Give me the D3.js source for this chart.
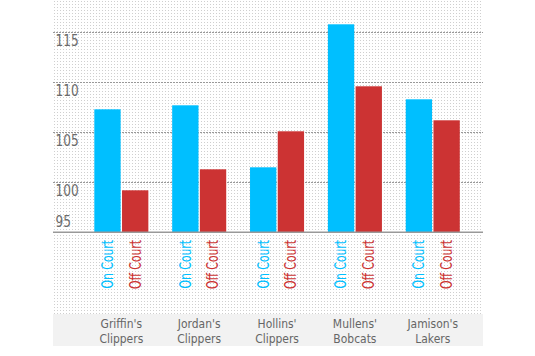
<!DOCTYPE html>
<html>
<head>
<meta charset="utf-8">
<script src="https://cdn.jsdelivr.net/npm/d3@7"></script>
<style>
  html, body { margin: 0; padding: 0; background: #fff; }
  svg { display: block; }
  text { font-family: "DejaVu Sans Condensed", "Liberation Sans Narrow", "Roboto", sans-serif; }
</style>
</head>
<body>
<svg id="chart" width="535" height="356"></svg>
<script>
const categories = ["Griffin's|Clippers", "Jordan's|Clippers", "Hollins'|Clippers", "Mullens'|Bobcats", "Jamison's|Lakers"];
const seriesKeys = ["On Court", "Off Court"];
const onCourt = [107.3, 107.7, 101.5, 115.8, 108.3];
const offCourt = [99.2, 101.3, 105.1, 109.6, 106.2];
const yTicks = [95, 100, 105, 110, 115];
const colors = ["#00BFFF", "#CC3333"];

const svg = d3.select("#chart");
const plotLeft = 53, plotRight = 483, plotTop = 0, plotBottom = 314, bandBottom = 346;

const y = d3.scaleLinear().domain([95, 115]).range([232.3, 32.3]);
const x0 = d3.scaleBand().domain(categories).range([82.4, 471.7]).paddingInner(0.306).paddingOuter(0.153);
const x1 = d3.scaleBand().domain(seriesKeys).range([0, x0.bandwidth()]).paddingInner(0.05);

// dotted background pattern
const defs = svg.append("defs");
const pat = defs.append("pattern").attr("id", "dots").attr("patternUnits", "userSpaceOnUse")
  .attr("x", plotLeft).attr("y", 0).attr("width", 3).attr("height", 3);
pat.append("rect").attr("x", 1).attr("y", 1).attr("width", 1).attr("height", 1).attr("fill", "#cfcfcf");

svg.append("rect").attr("x", plotLeft).attr("y", plotTop).attr("width", plotRight - plotLeft).attr("height", plotBottom - plotTop)
  .attr("fill", "url(#dots)");

// category band
svg.append("rect").attr("x", plotLeft).attr("y", plotBottom).attr("width", plotRight - plotLeft).attr("height", bandBottom - plotBottom)
  .attr("fill", "#f2f2f2");

// gridlines
svg.append("g").selectAll("line").data(yTicks.filter(d => d !== 95)).join("line")
  .attr("x1", plotLeft).attr("x2", plotRight)
  .attr("y1", d => y(d)).attr("y2", d => y(d))
  .attr("stroke", "#999").attr("stroke-width", 1).attr("stroke-dasharray", "2,1")
  .attr("shape-rendering", "crispEdges");

// bars
const data = categories.map((c, i) => ({ cat: c, vals: [onCourt[i], offCourt[i]] }));
const groups = svg.append("g").selectAll("g").data(data).join("g")
  .attr("transform", d => `translate(${x0(d.cat)},0)`);
groups.selectAll("rect").data(d => d.vals.map((v, j) => ({ key: seriesKeys[j], v, j }))).join("rect")
  .attr("x", d => x1(d.key)).attr("width", x1.bandwidth())
  .attr("y", d => y(d.v)).attr("height", d => y(95) - y(d.v))
  .attr("fill", d => colors[d.j]);

// baseline
svg.append("line").attr("x1", plotLeft).attr("x2", plotRight).attr("y1", y(95)).attr("y2", y(95))
  .attr("stroke", "#999").attr("stroke-width", 1.5);

// y tick labels
svg.append("g").selectAll("text").data(yTicks).join("text")
  .attr("transform", d => `translate(55.5,${d === 95 ? y(d) - 5 : y(d) + 14}) scale(0.9,1)`)
  .attr("fill", "#6b6b6b").attr("font-size", 15)
  .text(d => d);

// rotated series labels
groups.selectAll("text.series").data(d => seriesKeys.map((k, j) => ({ key: k, j }))).join("text")
  .attr("class", "series")
  .attr("transform", d => `translate(${x1(d.key) + x1.bandwidth() / 2},240) rotate(-90) scale(0.8,1)`)
  .attr("text-anchor", "end").attr("dy", "0.36em")
  .attr("font-size", 15)
  .attr("fill", d => colors[d.j])
  .text(d => d.key);

// category labels (two lines each)
const lines = categories.flatMap(c => c.split("|").map((t, i) => ({ cat: c, t, i })));
svg.append("g").selectAll("text").data(lines).join("text")
  .attr("text-anchor", "middle").attr("fill", "#666").attr("font-size", 13)
  .attr("transform", d => `translate(${x0(d.cat) + x0.bandwidth() / 2},${327.5 + d.i * 15.2}) scale(0.92,1)`)
  .text(d => d.t);
</script>
</body>
</html>
